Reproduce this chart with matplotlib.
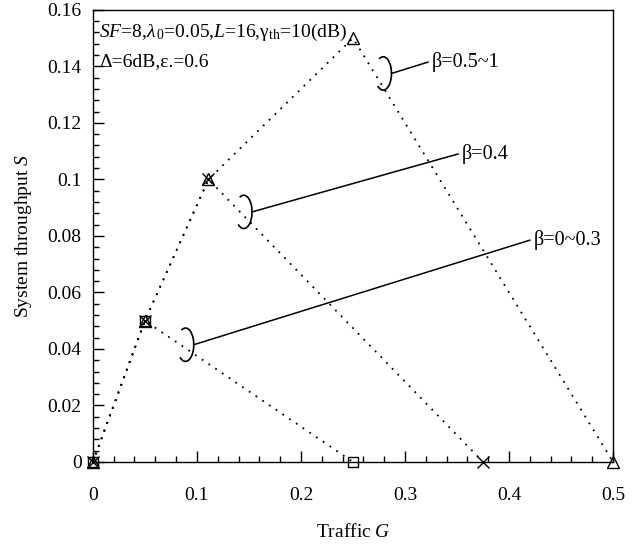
import matplotlib
matplotlib.use("Agg")
import matplotlib.pyplot as plt
from matplotlib.patches import Arc

plt.rcParams['font.family'] = ['Liberation Serif', 'DejaVu Serif']
plt.rcParams['mathtext.fontset'] = 'custom'
plt.rcParams['mathtext.rm'] = 'Liberation Serif'
plt.rcParams['mathtext.it'] = 'Liberation Serif:italic'
plt.rcParams['mathtext.bf'] = 'Liberation Serif:bold'

# throughput S vs traffic G for the three beta groups
g_low = [0, 0.05, 0.25]
s_low = [0, 0.05, 0]
g_mid = [0, 0.05, 0.1111, 0.375]
s_mid = [0, 0.05, 0.1, 0]
g_high = [0, 0.05, 0.1111, 0.25, 0.5]
s_high = [0, 0.05, 0.1, 0.15, 0]

# annotations: ellipse centre, leader end, label
labels = ['β=0~0.3', 'β=0.4', 'β=0.5~1']
ell_x = [0.089, 0.145, 0.279]
ell_y = [0.0415, 0.0885, 0.1375]
lead_x = [0.420, 0.351, 0.322]
lead_y = [0.0785, 0.1090, 0.1415]

fig = plt.figure(figsize=(6.36, 5.48), dpi=100)
ax = fig.add_axes([0.146, 0.157, 0.818, 0.825])

dots = (0, (1, 3.5))
ax.plot(g_low, s_low, color='k', lw=1.3, ls=dots, marker='s',
        ms=7, mfc='none', mec='k', mew=1.0, clip_on=False)
ax.plot(g_mid, s_mid, color='k', lw=1.3, ls=dots, marker='x',
        ms=9, mec='k', mew=1.0, clip_on=False)
ax.plot(g_high, s_high, color='k', lw=1.3, ls=dots, marker='^',
        ms=9, mfc='none', mec='k', mew=1.0, clip_on=False)

w, h = 0.016, 0.0118
for lab, ex, ey, lx, ly in zip(labels, ell_x, ell_y, lead_x, lead_y):
    ax.add_patch(Arc((ex, ey), w, h, theta1=-140, theta2=127,
                     color='k', lw=1.2))
    ax.plot([ex + w / 2, lx], [ey, ly], color='k', lw=1.1)
    ax.text(lx + 0.004, ly, lab, fontsize=14.5, va='center', ha='left')

ax.text(0.006, 0.152,
        r'$\mathit{SF}$=8,$\lambda_{\,0}$=0.05,$\mathit{L}$=16,'
        r'$\mathrm{\gamma}_{\mathrm{th}}$=10(dB)',
        fontsize=14, va='center', ha='left')
ax.text(0.006, 0.1418, 'Δ=6dB,ε.=0.6', fontsize=14, va='center', ha='left')

ax.set_xlim(0, 0.5)
ax.set_ylim(0, 0.16)
ax.set_xticks([0, 0.1, 0.2, 0.3, 0.4, 0.5])
ax.set_xticklabels(['0', '0.1', '0.2', '0.3', '0.4', '0.5'])
ax.set_yticks([0, 0.02, 0.04, 0.06, 0.08, 0.1, 0.12, 0.14, 0.16])
ax.set_yticklabels(['0', '0.02', '0.04', '0.06', '0.08', '0.1',
                    '0.12', '0.14', '0.16'])
ax.set_xticks([i * 0.02 for i in range(26)], minor=True)
ax.set_yticks([i * 0.004 for i in range(41)], minor=True)
ax.tick_params(which='both', direction='in', top=False, right=False,
               labelsize=14, width=1.0)
ax.tick_params(which='major', length=8)
ax.tick_params(which='minor', length=4)
ax.tick_params(axis='x', which='major', pad=18)
ax.tick_params(axis='y', which='major', pad=8)
for sp in ax.spines.values():
    sp.set_linewidth(1.0)

ax.set_xlabel('Traffic $G$', fontsize=14, labelpad=14)
ax.set_ylabel('System throughput $S$', fontsize=14, labelpad=10)

fig.savefig('out.png', dpi=100)
